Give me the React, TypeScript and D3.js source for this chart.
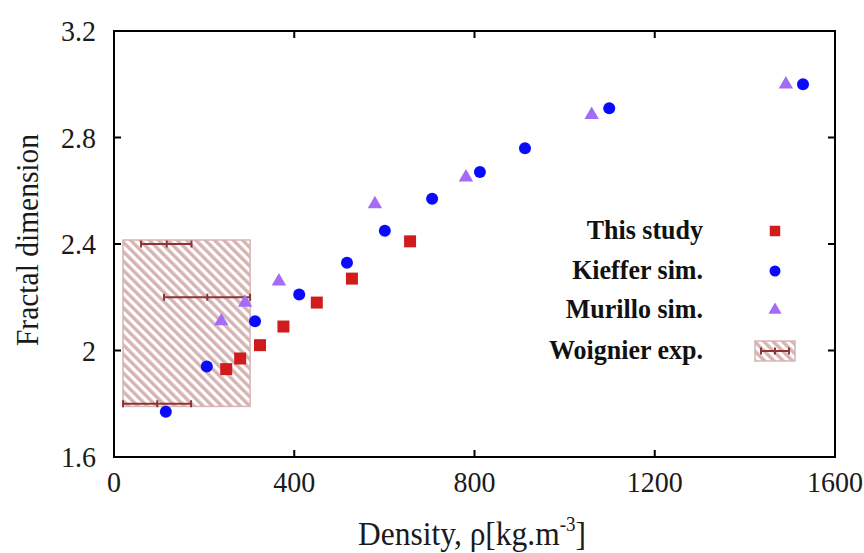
import React from "react";
import * as d3 from "d3";

const thisStudyX = [249, 280, 324, 376, 450, 528, 657];
const thisStudyY = [1.93, 1.97, 2.02, 2.09, 2.18, 2.27, 2.41];

const kiefferX = [115, 206, 313, 411, 517, 601, 706, 812, 912, 1099, 1529];
const kiefferY = [1.77, 1.94, 2.11, 2.21, 2.33, 2.45, 2.57, 2.67, 2.76, 2.91, 3.0];

const murilloX = [238, 291, 366, 579, 781, 1060, 1491];
const murilloY = [2.11, 2.18, 2.26, 2.55, 2.65, 2.885, 3.0];

const woignierX = [117, 207, 96];
const woignierXmin = [60, 111, 20];
const woignierXmax = [172, 302, 171];
const woignierY = [2.4, 2.2, 1.8];
const woignierBoxX = [20, 302];
const woignierBoxY = [1.79, 2.415];

const xTicks = [0, 400, 800, 1200, 1600];
const yTicks = [1.6, 2.0, 2.4, 2.8, 3.2];
const yTickLabels = ["1.6", "2", "2.4", "2.8", "3.2"];

const legendLabels = ["This study", "Kieffer sim.", "Murillo sim.", "Woignier exp."];

const W = 864;
const H = 553;
const M = { left: 114, right: 835, top: 31, bottom: 457 };

const RED = "#d01c1c";
const BLUE = "#0a0aff";
const PURPLE = "#a46cf4";
const HATCH = "#d6b4b4";
const ERR = "#8e3434";
const FONT = "'Liberation Serif', 'DejaVu Serif', serif";
const SY = 1.08;

export default function App() {
  const x = d3.scaleLinear().domain([0, 1600]).range([M.left, M.right]);
  const y = d3.scaleLinear().domain([1.6, 3.2]).range([M.bottom, M.top]);
  const tri = d3.symbol(d3.symbolTriangle, 90)() as string;
  const sq = d3.symbol(d3.symbolSquare, 144)() as string;
  const tick = 7;

  const errBar = (x0: number, x1: number, xc: number, yy: number, key: string, capH = 7) => (
    <g key={key} stroke={ERR} strokeWidth={2}>
      <line x1={x0} x2={x1} y1={yy} y2={yy} />
      <line x1={x0} x2={x0} y1={yy - capH / 2} y2={yy + capH / 2} />
      <line x1={x1} x2={x1} y1={yy - capH / 2} y2={yy + capH / 2} />
      <line x1={xc} x2={xc} y1={yy - capH / 2} y2={yy + capH / 2} />
    </g>
  );

  const legendX = 703;
  const legendSymX = 775;
  const legendRows = [231, 271, 310, 351];

  return (
    <svg width={W} height={H} style={{ position: "absolute", left: 0, top: 0, background: "#fff" }}>
      <defs>
        <pattern id="hatch" width={6.6} height={6.6} patternUnits="userSpaceOnUse" patternTransform="rotate(-45)">
          <rect x={0} y={0} width={3.4} height={6.6} fill={HATCH} />
        </pattern>
      </defs>
      <rect width={W} height={H} fill="#fff" />

      {/* Woignier box */}
      <rect
        x={x(woignierBoxX[0])}
        y={y(woignierBoxY[1])}
        width={x(woignierBoxX[1]) - x(woignierBoxX[0])}
        height={y(woignierBoxY[0]) - y(woignierBoxY[1])}
        fill="url(#hatch)"
        stroke={HATCH}
        strokeWidth={1.5}
      />
      {woignierY.map((v, i) => errBar(x(woignierXmin[i]), x(woignierXmax[i]), x(woignierX[i]), y(v), "e" + i))}

      {/* Murillo triangles */}
      {murilloX.map((v, i) => (
        <path key={"m" + i} d={tri} transform={`translate(${x(v)},${y(murilloY[i])})`} fill={PURPLE} />
      ))}
      {/* Kieffer circles */}
      {kiefferX.map((v, i) => (
        <circle key={"k" + i} cx={x(v)} cy={y(kiefferY[i])} r={6} fill={BLUE} />
      ))}
      {/* This study squares */}
      {thisStudyX.map((v, i) => (
        <path key={"s" + i} d={sq} transform={`translate(${x(v)},${y(thisStudyY[i])})`} fill={RED} />
      ))}

      {/* Frame */}
      <rect x={M.left} y={M.top} width={M.right - M.left} height={M.bottom - M.top} fill="none" stroke="#000" strokeWidth={2} />
      {xTicks.map((t) => (
        <g key={"xt" + t} stroke="#000" strokeWidth={2}>
          <line x1={x(t)} x2={x(t)} y1={M.bottom} y2={M.bottom - tick} />
          <line x1={x(t)} x2={x(t)} y1={M.top} y2={M.top + tick} />
        </g>
      ))}
      {yTicks.map((t) => (
        <g key={"yt" + t} stroke="#000" strokeWidth={2}>
          <line x1={M.left} x2={M.left + tick} y1={y(t)} y2={y(t)} />
          <line x1={M.right} x2={M.right - tick} y1={y(t)} y2={y(t)} />
        </g>
      ))}

      {/* Tick labels */}
      <g fontFamily={FONT} fontSize={28} fill="#1a1a1a">
        {xTicks.map((t) => (
          <text key={"xl" + t} transform={`translate(${x(t)},492) scale(1,${SY})`} textAnchor="middle">
            {t}
          </text>
        ))}
        {yTicks.map((t, i) => (
          <text key={"yl" + t} transform={`translate(96,${y(t) + 10}) scale(1,${SY})`} textAnchor="end">
            {yTickLabels[i]}
          </text>
        ))}
      </g>

      {/* Axis titles */}
      <text
        transform={`translate(472,545) scale(1,${SY})`}
        textAnchor="middle"
        fontFamily={FONT}
        fontSize={31.5}
        fill="#1a1a1a"
      >
        Density, ρ[kg.m<tspan fontSize={19} dy={-13}>-3</tspan>
        <tspan dy={13}>]</tspan>
      </text>
      <text
        transform={`translate(38,${(M.top + M.bottom) / 2 - 4}) rotate(-90) scale(1,${SY})`}
        textAnchor="middle"
        fontFamily={FONT}
        fontSize={29.5}
        fill="#1a1a1a"
      >
        Fractal dimension
      </text>

      {/* Legend */}
      <g fontFamily={FONT} fontSize={26} fontWeight="bold" fill="#111">
        {legendLabels.map((l, i) => (
          <text key={"lg" + i} transform={`translate(${legendX},${legendRows[i] + 8}) scale(1,${SY})`} textAnchor="end">
            {l}
          </text>
        ))}
      </g>
      <path d={d3.symbol(d3.symbolSquare, 110)() as string} transform={`translate(${legendSymX},${legendRows[0]})`} fill={RED} />
      <circle cx={legendSymX} cy={legendRows[1]} r={5.5} fill={BLUE} />
      <path d={d3.symbol(d3.symbolTriangle, 75)() as string} transform={`translate(${legendSymX},${legendRows[2]})`} fill={PURPLE} />
      <rect x={755} y={legendRows[3] - 10} width={40} height={20} fill="url(#hatch)" stroke={HATCH} strokeWidth={1.5} />
      {errBar(761, 789, 775, legendRows[3], "le", 7)}
    </svg>
  );
}
